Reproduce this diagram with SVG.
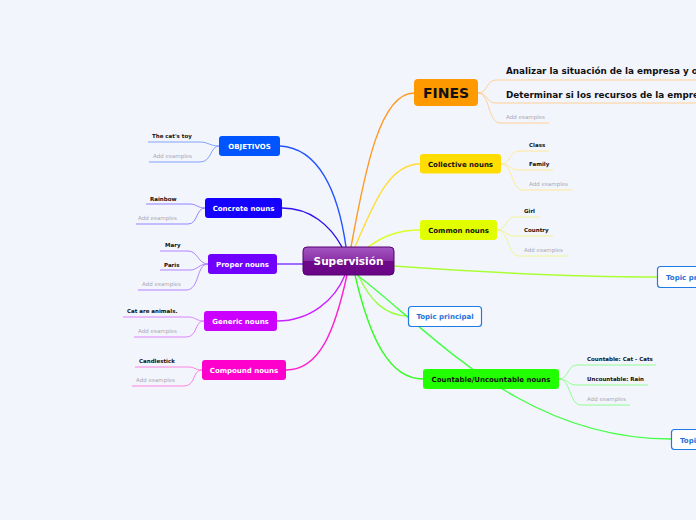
<svg xmlns="http://www.w3.org/2000/svg" width="696" height="520" viewBox="0 0 696 520">
<defs>
<linearGradient id="cg" x1="0" y1="0" x2="0" y2="1">
<stop offset="0" stop-color="#a455c2"/>
<stop offset="0.5" stop-color="#8a2fa6"/>
<stop offset="0.5" stop-color="#6e0a8a"/>
<stop offset="1" stop-color="#6a0585"/>
</linearGradient>
</defs>
<style>
.bg{fill:#f3f5fd}
.e{fill:none;stroke-width:1.4}
.c{fill:none;stroke-width:0.9}
.n{font-family:"DejaVu Sans",sans-serif;font-weight:bold;font-size:7px;text-anchor:middle}
.w{fill:#ffffff}
.k{fill:#111111}
.t{font-family:"DejaVu Sans",sans-serif;font-weight:bold;font-size:5.5px;fill:#111111}
.a{font-family:"DejaVu Sans",sans-serif;font-size:5.5px;fill:#a8a8b0}
.big{font-family:"DejaVu Sans",sans-serif;font-weight:bold;font-size:8.8px;fill:#111111}
.tp{fill:#ffffff;stroke:#1e7be6;stroke-width:1.2}
.tpt{fill:#1e6fd9}
</style>
<rect class="bg" x="0" y="0" width="696" height="520"/>
<g id="connectors">
<path class="e" stroke="#2255ff" d="M346,247 C338,190 318,148 280,146"/>
<path class="e" stroke="#3311ee" d="M342,247 C330,225 310,208 282,208"/>
<path class="e" stroke="#7733ff" d="M303,264 L277,264"/>
<path class="e" stroke="#cc22ff" d="M345,275 C335,300 310,321 277,321"/>
<path class="e" stroke="#ff22cc" d="M347,275 C335,330 320,370 286,370"/>
<path class="e" stroke="#ff9922" d="M351,247 C365,170 380,93 414,93"/>
<path class="e" stroke="#ffdd33" d="M355,247 C375,200 390,164 420,164"/>
<path class="e" stroke="#ddff22" d="M368,247 C385,235 400,230 420,230"/>
<path class="e" stroke="#aaff33" d="M394,266 C450,270 560,277 657,277"/>
<path class="e" stroke="#99ff44" d="M358,275 C370,300 385,316 408,316"/>
<path class="e" stroke="#33ff22" d="M355,275 C370,340 390,379 423,379"/>
<path class="e" stroke="#44ff44" d="M357,275 C430,330 520,439 671,439"/>
<path class="c" stroke="#7799ff" d="M219,146 C210,146 208,142 200,142 L148,142"/>
<path class="c" stroke="#7799ff" d="M219,146 C210,146 212,162 200,162 L149,162"/>
<path class="c" stroke="#8877ff" d="M205,208 C198,208 196,204 190,204 L146,204"/>
<path class="c" stroke="#8877ff" d="M205,208 C196,208 198,224 188,224 L136,224"/>
<path class="c" stroke="#aa77ff" d="M208,264 C198,264 198,251 188,251 L160,251"/>
<path class="c" stroke="#aa77ff" d="M208,264 C198,264 198,270 190,270 L160,270"/>
<path class="c" stroke="#aa77ff" d="M208,264 C196,264 200,290 186,290 L138,290"/>
<path class="c" stroke="#dd77ff" d="M204,321 C196,321 196,317 188,317 L123,317"/>
<path class="c" stroke="#dd77ff" d="M204,321 C194,321 198,337 186,337 L134,337"/>
<path class="c" stroke="#ff77dd" d="M202,370 C195,370 195,367 188,367 L135,367"/>
<path class="c" stroke="#ff77dd" d="M202,370 C192,370 196,386 184,386 L132,386"/>
<path class="c" stroke="#ffcc88" d="M478,93 C488,93 486,80 496,80 L696,80"/>
<path class="c" stroke="#ffcc88" d="M478,93 C488,93 486,103 496,103 L696,103"/>
<path class="c" stroke="#ffcc88" d="M478,93 C490,93 488,123 500,123 L549,123"/>
<path class="c" stroke="#ffe98a" d="M501,164 C511,164 509,151 519,151 L549,151"/>
<path class="c" stroke="#ffe98a" d="M501,164 C511,164 509,170 519,170 L553,170"/>
<path class="c" stroke="#ffe98a" d="M501,164 C513,164 511,190 523,190 L572,190"/>
<path class="c" stroke="#eef588" d="M497,230 C507,230 505,217 515,217 L540,217"/>
<path class="c" stroke="#eef588" d="M497,230 C507,230 505,236 515,236 L553,236"/>
<path class="c" stroke="#eef588" d="M497,230 C509,230 507,256 519,256 L568,256"/>
<path class="c" stroke="#88ff88" d="M559,379 C569,379 567,365 577,365 L656,365"/>
<path class="c" stroke="#88ff88" d="M559,379 C569,379 567,385 577,385 L648,385"/>
<path class="c" stroke="#88ff88" d="M559,379 C571,379 569,405 581,405 L630,405"/>
</g>
<g id="central">
<rect x="303" y="247" width="91" height="28" rx="4" fill="url(#cg)" stroke="#550070" stroke-width="1"/>
<text x="348.5" y="265" class="n w" style="font-size:10.5px">Supervisión</text>
</g>
<g id="fines">
<rect x="414" y="79" width="64" height="27" rx="4" fill="#ff9900"/>
<text x="446" y="97.5" class="n k" style="font-size:14px">FINES</text>
<text x="506" y="74" class="big">Analizar la situación de la empresa y ordenar</text>
<text x="506" y="98" class="big">Determinar si los recursos de la empresa son</text>
<text x="506" y="119" class="a">Add examples</text>
</g>
<g id="collective">
<rect x="420" y="154" width="81" height="19.5" rx="3" fill="#ffdd00"/>
<text x="460.5" y="166.5" class="n k">Collective nouns</text>
<text x="529" y="147" class="t">Class</text>
<text x="529" y="166" class="t">Family</text>
<text x="529" y="186" class="a">Add examples</text>
</g>
<g id="common">
<rect x="420" y="220" width="77" height="20" rx="3" fill="#e2ff00"/>
<text x="458.5" y="232.5" class="n k">Common nouns</text>
<text x="524" y="213" class="t">Girl</text>
<text x="524" y="232" class="t">Country</text>
<text x="524" y="252" class="a">Add examples</text>
</g>
<g id="topic-right">
<rect x="657.5" y="266.5" width="50" height="21" rx="3" class="tp"/>
<text x="666" y="280" class="n tpt" style="text-anchor:start">Topic principal</text>
</g>
<g id="topic-mid">
<rect x="408.5" y="306.5" width="73" height="20" rx="3" class="tp"/>
<text x="445" y="319" class="n tpt">Topic principal</text>
</g>
<g id="countable">
<rect x="423" y="369" width="136" height="20" rx="3" fill="#22ff00"/>
<text x="491" y="381.5" class="n k">Countable/Uncountable nouns</text>
<text x="587" y="361" class="t">Countable: Cat - Cats</text>
<text x="587" y="381" class="t">Uncountable: Rain</text>
<text x="587" y="401" class="a">Add examples</text>
</g>
<g id="topic-bottom">
<rect x="671.5" y="429.5" width="40" height="20" rx="3" class="tp"/>
<text x="680" y="442.5" class="n tpt" style="text-anchor:start">Topic principal</text>
</g>
<g id="objetivos">
<rect x="219" y="136" width="61" height="20" rx="3" fill="#0055ff"/>
<text x="249.5" y="148.5" class="n w">OBJETIVOS</text>
<text x="152" y="138" class="t">The cat's toy</text>
<text x="153" y="158" class="a">Add examples</text>
</g>
<g id="concrete">
<rect x="205" y="198" width="77" height="20" rx="3" fill="#1500ff"/>
<text x="243.5" y="210.5" class="n w">Concrete nouns</text>
<text x="150" y="201" class="t">Rainbow</text>
<text x="138" y="220" class="a">Add examples</text>
</g>
<g id="proper">
<rect x="208" y="254" width="69" height="20" rx="3" fill="#7000ff"/>
<text x="242.5" y="266.5" class="n w">Proper nouns</text>
<text x="165" y="247" class="t">Mary</text>
<text x="164" y="267" class="t">Paris</text>
<text x="142" y="286" class="a">Add examples</text>
</g>
<g id="generic">
<rect x="204" y="311" width="73" height="20" rx="3" fill="#cc00ff"/>
<text x="240.5" y="323.5" class="n w">Generic nouns</text>
<text x="127" y="313" class="t">Cat are animals.</text>
<text x="138" y="333" class="a">Add examples</text>
</g>
<g id="compound">
<rect x="202" y="360" width="84" height="20" rx="3" fill="#ff00cc"/>
<text x="244" y="372.5" class="n w">Compound nouns</text>
<text x="139" y="363" class="t">Candlestick</text>
<text x="136" y="382" class="a">Add examples</text>
</g>
</svg>
